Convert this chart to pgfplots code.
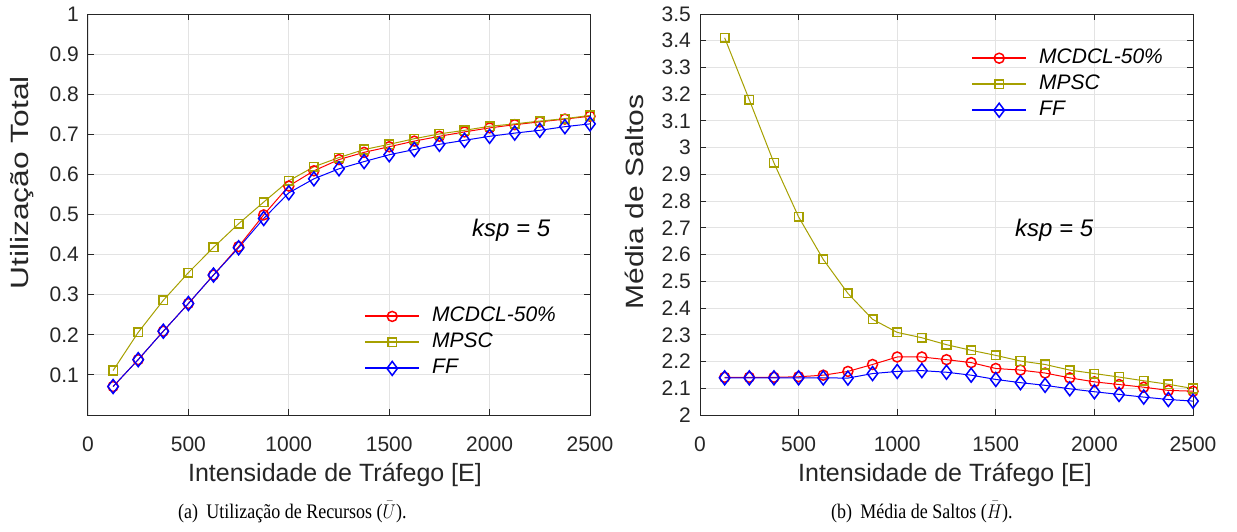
\documentclass[border=0pt]{standalone}
\usepackage{fontspec}
\setmainfont{Liberation Sans}
\newfontfamily\capfont{Liberation Serif}
\usepackage{pgfplots}
\pgfplotsset{compat=1.18}

\definecolor{mcdcl}{rgb}{1,0,0}
\definecolor{mpsc}{RGB}{166,160,0}
\definecolor{ffc}{rgb}{0,0,1}
\definecolor{axc}{RGB}{38,38,38}

\newcommand{\fT}{\fontsize{21}{25}\selectfont}
\newcommand{\fL}{\fontsize{25}{30}\selectfont}
\newcommand{\fG}{\fontsize{21}{25}\selectfont\itshape}
\newcommand{\fK}{\fontsize{24}{28}\selectfont\itshape}

\pgfplotstableread{
x     mcdcl  mpsc   ff
125   0.071  0.111  0.071
250   0.138  0.206  0.138
375   0.209  0.286  0.209
500   0.278  0.355  0.278
625   0.349  0.418  0.349
750   0.420  0.477  0.417
875   0.499  0.531  0.490
1000  0.571  0.584  0.554
1125  0.609  0.619  0.589
1250  0.637  0.642  0.614
1375  0.655  0.662  0.632
1500  0.669  0.675  0.649
1625  0.683  0.689  0.662
1750  0.695  0.701  0.675
1875  0.706  0.710  0.685
2000  0.716  0.720  0.695
2125  0.724  0.726  0.703
2250  0.731  0.733  0.710
2375  0.738  0.739  0.719
2500  0.745  0.747  0.726
}\utiltab

\pgfplotstableread{
x     mcdcl  mpsc   ff
125   2.141  3.411  2.139
250   2.141  3.179  2.139
375   2.141  2.943  2.139
500   2.143  2.741  2.139
625   2.149  2.582  2.139
750   2.163  2.455  2.138
875   2.189  2.358  2.155
1000  2.217  2.309  2.163
1125  2.217  2.289  2.166
1250  2.207  2.263  2.160
1375  2.196  2.242  2.149
1500  2.174  2.223  2.133
1625  2.168  2.202  2.121
1750  2.157  2.189  2.111
1875  2.139  2.168  2.098
2000  2.124  2.155  2.087
2125  2.114  2.142  2.077
2250  2.104  2.128  2.067
2375  2.092  2.115  2.058
2500  2.089  2.099  2.052
}\hoptab

% legend sample: line in colour #1 with mark #2 of size #3
\newcommand{\legimg}[3]{%
  \fill[fill=#1] (0pt,-0.5pt) rectangle (53pt,0.5pt);
  \draw[draw=#1, line width=1.5pt] plot[mark=#2, mark size=#3] coordinates {(26.5pt,0pt)};}

\pgfplotsset{
  matstyle/.style={
    scale only axis,
    xmin=0, xmax=2500,
    xtick={0,500,1000,1500,2000,2500},
    xticklabels={0,500,1000,1500,2000,2500},
    grid=major,
    major grid style={draw=black!11, line width=0.9pt},
    axis line style={draw=axc, line width=1pt},
    tick align=inside,
    major tick length=6pt,
    tick style={draw=axc, line width=1pt},
    xticklabel pos=lower, yticklabel pos=left,
    xticklabel style={font=\fT, text=axc, anchor=base, inner sep=0pt, yshift=-36pt},
    yticklabel style={font=\fT, text=axc, anchor=east, inner sep=0pt, xshift=-9pt},
    label style={font=\fL, text=axc},
    xlabel={Intensidade de Tráfego [E]},
    legend cell align=left,
    legend style={draw=none, fill=none, inner sep=0pt, row sep=7pt,
      column sep=13pt, font=\fG,
      nodes={inner sep=0pt, text height=15pt, text depth=4pt}},
  },
  pmcdcl/.style={color=mcdcl, line width=1pt, mark=o, mark size=5pt,
    mark options={line width=1.5pt, solid},
    legend image code/.code={\legimg{mcdcl}{o}{5pt}}},
  pmpsc/.style={color=mpsc, line width=1pt, mark=square, mark size=4.3pt,
    mark options={line width=1.5pt, solid},
    legend image code/.code={\legimg{mpsc}{square}{4.3pt}}},
  pff/.style={color=ffc, line width=1pt, mark=diamond, mark size=7pt,
    mark options={line width=1.5pt, solid},
    legend image code/.code={\legimg{ffc}{diamond}{7pt}}},
}

\begin{document}
\begin{tikzpicture}
\useasboundingbox (-88pt,-116pt) rectangle (1149pt,415pt);

% ---------- (a) utilizacao ----------
\begin{axis}[matstyle,
  at={(0pt,0pt)}, anchor=south west,
  width=502pt, height=401pt,
  ymin=0, ymax=1,
  ytick={0.1,0.2,0.3,0.4,0.5,0.6,0.7,0.8,0.9,1},
  yticklabels={0.1,0.2,0.3,0.4,0.5,0.6,0.7,0.8,0.9,1},
  ylabel={Utilização Total},
  ylabel style={at={(axis description cs:-0.1315,0.579)}, anchor=center, xscale=1.27},
  xlabel style={at={(axis description cs:0.492,-0.1646)}, anchor=base},
  legend style={at={(axis description cs:0.5518,0.270)}, anchor=north west},
]
\addplot[pmcdcl] table[x=x,y=mcdcl] {\utiltab};
\addlegendentry{MCDCL-50\%}
\addplot[pmpsc] table[x=x,y=mpsc] {\utiltab};
\addlegendentry{MPSC}
\addplot[pff] table[x=x,y=ff] {\utiltab};
\addlegendentry{FF}
\node[font=\fK, text=black, anchor=base west, inner sep=0pt] at (axis cs:1912,0.446) {ksp = 5};
\end{axis}

% ---------- (b) saltos ----------
\begin{axis}[matstyle,
  at={(612pt,0pt)}, anchor=south west,
  width=493pt, height=401pt,
  ymin=2, ymax=3.5,
  ytick={2,2.1,2.2,2.3,2.4,2.5,2.6,2.7,2.8,2.9,3,3.1,3.2,3.3,3.4,3.5},
  yticklabels={2,2.1,2.2,2.3,2.4,2.5,2.6,2.7,2.8,2.9,3,3.1,3.2,3.3,3.4,3.5},
  ylabel={Média de Saltos},
  ylabel style={at={(axis description cs:-0.134,0.531)}, anchor=center, xscale=1.2},
  xlabel style={at={(axis description cs:0.497,-0.1646)}, anchor=base},
  legend style={at={(axis description cs:0.5517,0.914)}, anchor=north west},
]
\addplot[pmcdcl] table[x=x,y=mcdcl] {\hoptab};
\addlegendentry{MCDCL-50\%}
\addplot[pmpsc] table[x=x,y=mpsc] {\hoptab};
\addlegendentry{MPSC}
\addplot[pff] table[x=x,y=ff] {\hoptab};
\addlegendentry{FF}
\node[font=\fK, text=black, anchor=base west, inner sep=0pt] at (axis cs:1597,2.666) {ksp = 5};
\end{axis}

% ---------- captions ----------
\node[anchor=base west, inner sep=0pt, font=\capfont\fontsize{18}{21}\selectfont, yscale=1.15]
  at (90pt,-103pt) {(a)\hspace{0.45em}Utilização de Recursos ($\bar{U}$).};
\node[anchor=base west, inner sep=0pt, font=\capfont\fontsize{18}{21}\selectfont, yscale=1.15]
  at (743pt,-103pt) {(b)\hspace{0.45em}Média de Saltos ($\bar{H}$).};
\end{tikzpicture}
\end{document}
